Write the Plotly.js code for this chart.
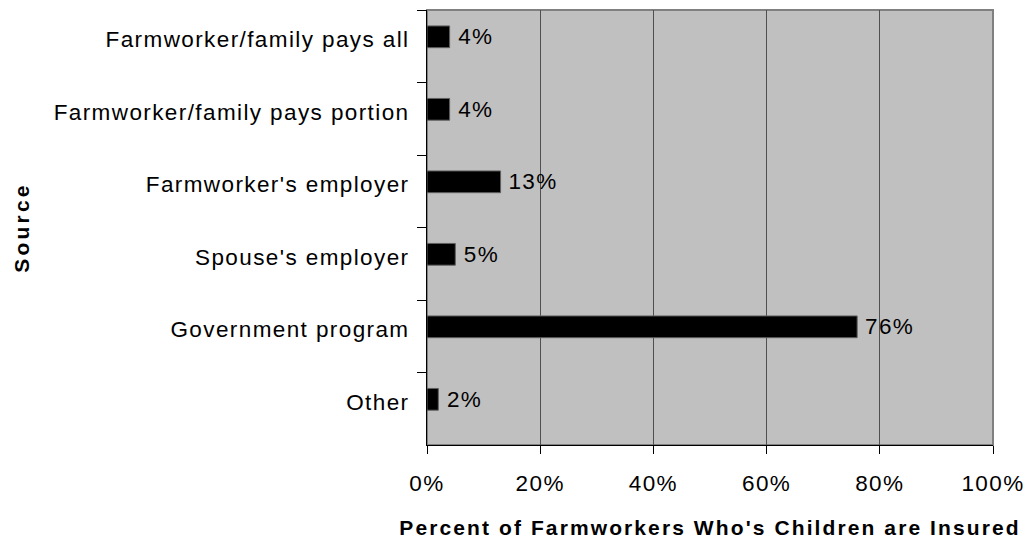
<!DOCTYPE html>
<html>
<head>
<meta charset="utf-8">
<script src="https://cdn.plot.ly/plotly-3.0.1.min.js"></script>
<style>
html,body{margin:0;padding:0;background:#fff;}
#chart{width:1027px;height:542px;}
#chart .ytick text, #chart .xtick text, #chart .bartext { letter-spacing: 1.4px; }
#chart .xtitle { letter-spacing: 2.1px; }
#chart .ytitle { letter-spacing: 3.2px; }
</style>
</head>
<body>
<div id="chart"></div>
<script>
const categories = [
  "Farmworker/family pays all",
  "Farmworker/family pays portion",
  "Farmworker's employer",
  "Spouse's employer",
  "Government program",
  "Other"
];
const percentValues = [4, 4, 13, 5, 76, 2];
const xTickVals = [0, 20, 40, 60, 80, 100];
const xTickText = ["0%", "20%", "40%", "60%", "80%", "100%"];
const xTitle = "Percent of Farmworkers Who's Children are Insured";
const yTitle = "Source";

const FONT = "Liberation Sans, Arial, sans-serif";
const FS = 22.5;

const trace = {
  type: "bar",
  orientation: "h",
  x: percentValues,
  y: categories,
  width: 0.30,
  offset: -0.28,
  marker: {color: "#000000", line: {color: "#606060", width: 1}},
  texttemplate: " %{x}%",
  textposition: "outside",
  constraintext: "none",
  cliponaxis: false,
  textfont: {family: FONT, size: FS, color: "#000"},
  hoverinfo: "skip"
};

const layout = {
  width: 1027,
  height: 542,
  margin: {l: 427, r: 34, t: 10, b: 97},
  paper_bgcolor: "#ffffff",
  plot_bgcolor: "#c0c0c0",
  showlegend: false,
  font: {family: FONT, size: FS, color: "#000"},
  xaxis: {
    range: [0, 100],
    tickvals: xTickVals,
    ticktext: xTickText,
    showgrid: true,
    gridcolor: "#505050",
    gridwidth: 1,
    zeroline: false,
    showline: true,
    linecolor: "#000",
    linewidth: 1,
    ticks: "outside",
    ticklen: 8,
    tickcolor: "#000",
    ticklabelstandoff: 10,
    tickfont: {family: FONT, size: FS, color: "#000"},
    title: {text: xTitle, font: {family: FONT, size: 21, color: "#000", weight: "bold"}, standoff: 25},
    fixedrange: true
  },
  yaxis: {
    type: "category",
    autorange: "reversed",
    tickson: "boundaries",
    ticks: "outside",
    ticklen: 9,
    tickcolor: "#000",
    showgrid: false,
    showline: true,
    linecolor: "#000",
    linewidth: 1,
    ticklabelshift: 7,
    ticklabelstandoff: 12,
    tickfont: {family: FONT, size: FS, color: "#000"},
    title: {text: yTitle, font: {family: FONT, size: 21, color: "#000", weight: "bold"}, standoff: 60},
    fixedrange: true
  },
  shapes: [{
    type: "rect", xref: "paper", yref: "paper", x0: 0, x1: 1, y0: 0, y1: 1,
    line: {color: "#808080", width: 2}, fillcolor: "rgba(0,0,0,0)", layer: "below"
  }]
};

Plotly.newPlot("chart", [trace], layout, {displayModeBar: false, staticPlot: true});
</script>
</body>
</html>
